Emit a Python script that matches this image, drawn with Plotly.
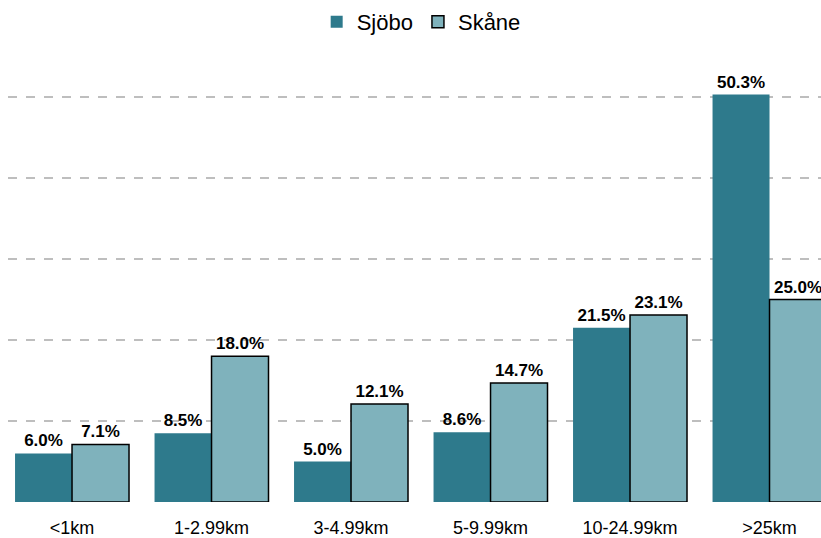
import plotly.graph_objects as go

categories = ["<1km", "1-2.99km", "3-4.99km", "5-9.99km", "10-24.99km", ">25km"]
sjobo = [6.0, 8.5, 5.0, 8.6, 21.5, 50.3]
skane = [7.1, 18.0, 12.1, 14.7, 23.1, 25.0]

FONT = "Liberation Sans, Arial, sans-serif"

fig = go.Figure()
fig.add_trace(go.Bar(
    name="Sjöbo", x=categories, y=sjobo,
    marker=dict(color="#2E7A8C", line=dict(width=0)),
    texttemplate="<b>%{y:.1f}%</b>", textposition="outside",
    textfont=dict(size=17, color="black", family=FONT),
    constraintext="none", cliponaxis=False,
))
fig.add_trace(go.Bar(
    name="Skåne", x=categories, y=skane,
    marker=dict(color="#7FB2BC", line=dict(width=1.5, color="black")),
    texttemplate="<b>%{y:.1f}%</b>", textposition="outside",
    textfont=dict(size=17, color="black", family=FONT),
    constraintext="none", cliponaxis=False,
))

fig.update_layout(
    width=821, height=538,
    margin=dict(l=8, r=0, t=60, b=36),
    barmode="group", bargap=0.183, bargroupgap=0,
    plot_bgcolor="white", paper_bgcolor="white",
    font=dict(family=FONT, color="black"),
    showlegend=True,
    legend=dict(orientation="h", xref="container", yref="container",
                x=0.513, xanchor="center", y=0.959, yanchor="middle",
                font=dict(size=22, family=FONT), traceorder="normal"),
)
fig.update_xaxes(
    type="category", range=[-0.459, 5.369],
    showgrid=False, showline=False, zeroline=False,
    ticks="", ticklabelstandoff=13,
    tickfont=dict(size=18, family=FONT, color="black"),
)
fig.update_yaxes(
    range=[0, 54.57], dtick=10, tick0=0,
    showgrid=True, gridcolor="#BEBEBE", griddash="dash", gridwidth=1.5,
    zeroline=False, showline=False, showticklabels=False, ticks="",
)

fig.write_html(
    "out.html",
    config={"displayModeBar": False},
    post_script="document.body.style.margin='0';document.documentElement.style.overflow='hidden';document.body.style.overflow='hidden';",
)
